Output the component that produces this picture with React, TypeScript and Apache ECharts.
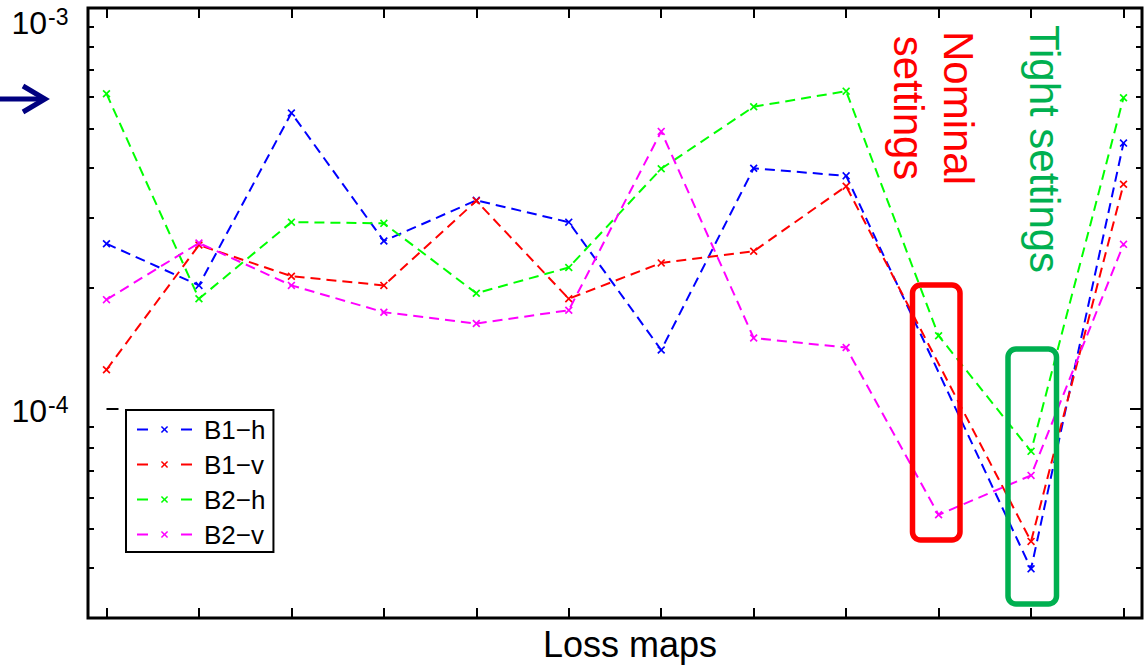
import React, { useEffect, useRef } from "react";
import * as echarts from "echarts";

// Loss map index (x positions of the 12 loss maps)
const mapIndex = [0, 1, 2, 3, 4, 5, 6, 7, 8, 9, 10, 11];

const seriesNames = ["B1\u2212h", "B1\u2212v", "B2\u2212h", "B2\u2212v"];
const seriesColors = ["#0000ff", "#ff0000", "#00ff00", "#ff00ff"];

const b1h = [2.58e-4, 2.03e-4, 5.47e-4, 2.62e-4, 3.31e-4, 2.92e-4, 1.4e-4, 3.98e-4, 3.81e-4, null, 3.98e-5, 4.6e-4];
const b1v = [1.25e-4, 2.56e-4, 2.14e-4, 2.03e-4, 3.3e-4, 1.88e-4, 2.31e-4, 2.47e-4, 3.59e-4, null, 4.66e-5, 3.63e-4];
const b2h = [6.11e-4, 1.88e-4, 2.92e-4, 2.9e-4, 1.94e-4, 2.25e-4, 3.97e-4, 5.67e-4, 6.2e-4, 1.52e-4, 7.82e-5, 5.97e-4];
const b2v = [1.87e-4, 2.59e-4, 2.03e-4, 1.74e-4, 1.63e-4, 1.76e-4, 4.92e-4, 1.5e-4, 1.42e-4, 5.43e-5, 6.81e-5, 2.57e-4];

const seriesValues = [b1h, b1v, b2h, b2v];

const yMin = 3e-5;
const yMax = 1e-3;
const yMajorTicks = [1e-4, 1e-3];
const yMajorExponents = ["-4", "-3"];
const yMinorTicks = [3e-5, 4e-5, 5e-5, 6e-5, 7e-5, 8e-5, 9e-5, 2e-4, 3e-4, 4e-4, 5e-4, 6e-4, 7e-4, 8e-4, 9e-4];

const xMin = -0.2;
const xMax = 11.2;

const FONT = "Liberation Sans, Arial, sans-serif";
const CROSS =
  "path://M0,1.5L1.5,0L5,3.5L8.5,0L10,1.5L6.5,5L10,8.5L8.5,10L5,6.5L1.5,10L0,8.5L3.5,5Z";

export default function App() {
  const ref = useRef<HTMLDivElement>(null);

  useEffect(() => {
    if (!ref.current) return;
    const chart = echarts.init(ref.current, undefined, { renderer: "svg" });

    const lg = (v: number) => Math.log10(v);

    const tickAxisY = (position: string, ticks: number[], len: number) => ({
      type: "value",
      position,
      min: lg(yMin),
      max: lg(yMax),
      axisLine: { show: false },
      splitLine: { show: false },
      axisTick: {
        show: true,
        inside: true,
        length: len,
        lineStyle: { color: "#000", width: 2 },
        customValues: ticks.map(lg),
      },
      axisLabel: { show: false },
    });

    const tickAxisX = (position: string) => ({
      type: "value",
      position,
      min: xMin,
      max: xMax,
      axisLine: { show: false },
      splitLine: { show: false },
      axisTick: {
        show: true,
        inside: true,
        length: 10,
        lineStyle: { color: "#000", width: 2 },
        customValues: mapIndex,
      },
      axisLabel: { show: false },
    });

    const baseGraphics: any[] = [
      {
        type: "polyline",
        z: 100,
        shape: { points: [[0, 99], [44, 99]] },
        style: { stroke: "#000080", lineWidth: 5, fill: "none" },
      },
      {
        type: "polyline",
        z: 100,
        shape: { points: [[23, 86], [45, 99], [23, 112]] },
        style: { stroke: "#000080", lineWidth: 5, fill: "none", lineJoin: "miter" },
      },
      {
        type: "rect",
        z: 100,
        shape: { x: 912.5, y: 285, width: 47.5, height: 255, r: 8 },
        style: { stroke: "#ff0000", lineWidth: 5.5, fill: "none" },
      },
      {
        type: "rect",
        z: 100,
        shape: { x: 1008, y: 349, width: 48.5, height: 255, r: 8 },
        style: { stroke: "#00b050", lineWidth: 5.5, fill: "none" },
      },
      {
        type: "text",
        z: 100,
        x: 933,
        y: 108,
        rotation: -Math.PI / 2,
        style: {
          text: "Nominal\nsettings",
          fill: "#ff0000",
          fontSize: 42,
          lineHeight: 50,
          fontFamily: FONT,
          align: "center",
          verticalAlign: "middle",
        },
      },
      {
        type: "text",
        z: 100,
        x: 1044,
        y: 149,
        rotation: -Math.PI / 2,
        style: {
          text: "Tight settings",
          fill: "#00b050",
          fontSize: 42,
          fontFamily: FONT,
          align: "center",
          verticalAlign: "middle",
        },
      },
    ];

    const option: any = {
      animation: false,
      backgroundColor: "#fff",
      grid: {
        left: 88,
        right: 5,
        top: 8,
        bottom: 49,
        containLabel: false,
        outerBoundsMode: "none",
        show: true,
        borderColor: "#000",
        borderWidth: 3,
        backgroundColor: "transparent",
      },
      xAxis: [
        {
          ...tickAxisX("bottom"),
          name: "Loss maps",
          nameLocation: "middle",
          nameGap: 8,
          nameTextStyle: { fontSize: 36, color: "#000", fontFamily: FONT, padding: [0, 0, 0, 30] },
        },
        tickAxisX("top"),
      ],
      yAxis: [
        {
          type: "log",
          logBase: 10,
          min: yMin,
          max: yMax,
          show: false,
        },
        tickAxisY("left", yMajorTicks, 12),
        tickAxisY("left", yMinorTicks, 6),
        tickAxisY("right", yMajorTicks, 12),
        tickAxisY("right", yMinorTicks, 6),
      ],
      legend: {
        orient: "vertical",
        left: 126,
        top: 410,
        data: seriesNames,
        itemWidth: 55,
        itemHeight: 9,
        itemGap: 8,
        padding: [6, 8, 4, 10],
        borderColor: "#000",
        borderWidth: 2,
        backgroundColor: "#fff",
        lineStyle: { type: [11, 33], width: 2 },
        textStyle: { fontSize: 26, lineHeight: 27, color: "#000", fontFamily: FONT, padding: [0, 0, 0, 7] },
      },
      series: seriesNames.map((name, k) => ({
        name,
        type: "line",
        xAxisIndex: 0,
        yAxisIndex: 0,
        connectNulls: true,
        symbol: CROSS,
        symbolSize: 8,
        showSymbol: true,
        color: seriesColors[k],
        itemStyle: { color: seriesColors[k] },
        lineStyle: { color: seriesColors[k], width: 2, type: [10, 6] },
        data: mapIndex.map((x, i) => [x, seriesValues[k][i] === null ? "-" : seriesValues[k][i]]),
        z: 2 + k,
      })),
      graphic: baseGraphics,
    };

    chart.setOption(option);

    // Y tick labels (10^n), placed at the log axis' own tick positions
    const labelGraphics: any[] = [];
    yMajorTicks.forEach((t, i) => {
      const py = chart.convertToPixel({ yAxisIndex: 0 }, t) as number;
      const isTop = i === yMajorTicks.length - 1;
      const cy = py + (isTop ? 14.5 : 2);
      labelGraphics.push({
        type: "text",
        z: 100,
        x: 47,
        y: cy,
        style: {
          text: "10",
          fill: "#000",
          fontSize: 32,
          fontFamily: FONT,
          align: "right",
          verticalAlign: "middle",
        },
      });
      labelGraphics.push({
        type: "text",
        z: 100,
        x: 48,
        y: cy - 6,
        style: {
          text: yMajorExponents[i],
          fill: "#000",
          fontSize: 23,
          fontFamily: FONT,
          align: "left",
          verticalAlign: "middle",
        },
      });
    });

    chart.setOption({ graphic: [...baseGraphics, ...labelGraphics] });

    return () => chart.dispose();
  }, []);

  return (
    <div
      ref={ref}
      style={{ position: "absolute", left: 0, top: 0, width: 1147, height: 667 }}
    />
  );
}
